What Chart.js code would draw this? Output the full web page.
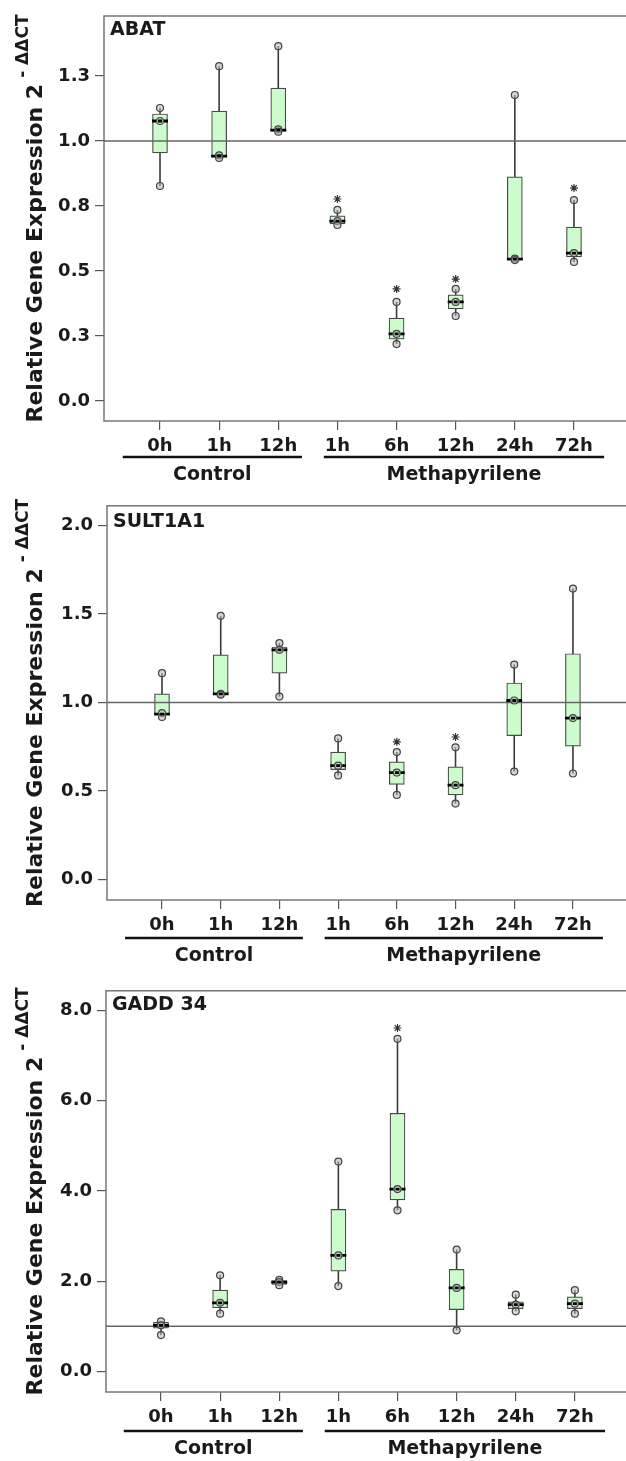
<!DOCTYPE html>
<html>
<head>
<meta charset="utf-8">
<script src="https://cdn.jsdelivr.net/npm/chart.js@4.4.1/dist/chart.umd.min.js"></script>
<style>
  html, body { margin: 0; padding: 0; background: #fff; overflow: hidden; }
  #wrap { position: relative; width: 626px; height: 1461px; overflow: hidden; }
  canvas { position: absolute; left: 0; }
</style>
</head>
<body>
<div id="wrap">
  <canvas id="abat" width="660" height="490" style="top:0px"></canvas>
  <canvas id="sult" width="660" height="485" style="top:490px"></canvas>
  <canvas id="gadd" width="660" height="486" style="top:975px"></canvas>
</div>
<script>
// x categories: 3 control time points, 5 methapyrilene time points
const timeLabels = ['0h', '1h', '12h', '1h', '6h', '12h', '24h', '72h'];
const groupNames = ['Control', 'Methapyrilene'];

// ABAT
const abatPoints = [[1.127, 1.077, 0.827], [1.288, 0.945, 0.935], [1.365, 1.045, 1.036], [0.735, 0.692, 0.677],
                    [0.381, 0.258, 0.219], [0.431, 0.381, 0.327], [1.177, 0.548, 0.542], [0.773, 0.569, 0.535]];
const abatQ1  = [0.954, 0.938, 1.038, 0.681, 0.238, 0.354, 0.546, 0.554];
const abatMed = [1.077, 0.942, 1.042, 0.692, 0.258, 0.381, 0.546, 0.569];
const abatQ3  = [1.104, 1.115, 1.204, 0.712, 0.319, 0.408, 0.862, 0.669];
const abatLo  = [0.827, 0.935, 1.036, 0.677, 0.219, 0.327, 0.542, 0.535];
const abatHi  = [1.127, 1.288, 1.365, 0.735, 0.381, 0.431, 1.177, 0.773];
const abatStars = [null, null, null, 0.777, 0.431, 0.469, null, 0.819];
const abatTicks = [0, 0.25, 0.5, 0.75, 1, 1.25];

// SULT1A1
const sultPoints = [[1.165, 0.940, 0.918], [1.489, 1.049, 1.044], [1.335, 1.297, 1.033], [0.797, 0.643, 0.588],
                    [0.720, 0.604, 0.478], [0.747, 0.533, 0.429], [1.214, 1.011, 0.610], [1.643, 0.912, 0.599]];
const sultQ1  = [0.934, 1.049, 1.165, 0.621, 0.538, 0.478, 0.813, 0.753];
const sultMed = [0.934, 1.049, 1.297, 0.643, 0.604, 0.533, 1.011, 0.912];
const sultQ3  = [1.049, 1.269, 1.313, 0.720, 0.665, 0.637, 1.110, 1.275];
const sultLo  = [0.918, 1.044, 1.033, 0.588, 0.478, 0.429, 0.610, 0.599];
const sultHi  = [1.165, 1.489, 1.335, 0.797, 0.720, 0.747, 1.214, 1.643];
const sultStars = [null, null, null, null, 0.778, 0.805, null, null];
const sultTicks = [0, 0.5, 1, 1.5, 2];

// GADD 34
const gaddPoints = [[1.109, 1.02, 0.804], [2.13, 1.52, 1.28], [2.03, 1.98, 1.91], [4.65, 2.57, 1.89],
                    [7.37, 4.04, 3.57], [2.70, 1.85, 0.91], [1.70, 1.48, 1.33], [1.80, 1.50, 1.28]];
const gaddQ1  = [0.957, 1.41, 1.93, 2.22, 3.80, 1.37, 1.39, 1.39];
const gaddMed = [1.02, 1.52, 1.98, 2.57, 4.04, 1.85, 1.48, 1.50];
const gaddQ3  = [1.087, 1.80, 2.01, 3.59, 5.72, 2.26, 1.54, 1.65];
const gaddLo  = [0.804, 1.28, 1.91, 1.89, 3.57, 0.91, 1.33, 1.28];
const gaddHi  = [1.109, 2.13, 2.03, 4.65, 7.37, 2.70, 1.70, 1.80];
const gaddStars = [null, null, null, null, 7.61, null, null, null];
const gaddTicks = [0, 2, 4, 6, 8];

const FONT = 'DejaVu Sans';

// draws frame, gene name, y title and the Control / Methapyrilene brackets
const panelDecor = {
  id: 'panelDecor',
  beforeDatasetsDraw(chart, args, opts) {
    const { ctx, chartArea: a } = chart;
    ctx.save();
    ctx.strokeStyle = '#777';
    ctx.lineWidth = 1.5;
    ctx.strokeRect(a.left, a.top, a.right - a.left, a.bottom - a.top);
    ctx.restore();
  },
  afterDraw(chart, args, opts) {
    const { ctx, chartArea: a } = chart;
    const xs = chart.scales.x;
    ctx.save();
    ctx.fillStyle = '#1a1a1a';

    // gene name inside the box
    ctx.font = 'bold 19px ' + FONT;
    ctx.textAlign = 'left';
    ctx.textBaseline = 'top';
    ctx.fillText(opts.title, a.left + 6, a.top + opts.titleDy);

    // y axis title with superscript
    const main = 'Relative Gene Expression 2';
    const sup = '- \u0394\u0394CT';
    ctx.font = 'bold 22px ' + FONT;
    const wMain = ctx.measureText(main).width;
    ctx.font = 'bold 17px ' + FONT;
    const wSup = ctx.measureText(sup).width;
    const total = wMain + 6 + wSup;
    ctx.save();
    ctx.translate(42, (a.top + a.bottom) / 2);
    ctx.rotate(-Math.PI / 2);
    ctx.textBaseline = 'alphabetic';
    ctx.font = 'bold 22px ' + FONT;
    ctx.fillText(main, -total / 2, 0);
    ctx.font = 'bold 17px ' + FONT;
    ctx.fillText(sup, -total / 2 + wMain + 6, -14);
    ctx.restore();

    // group brackets
    const groups = [[-0.63, 2.40], [2.77, 7.51]];
    ctx.strokeStyle = '#111';
    ctx.lineWidth = 2.5;
    ctx.font = 'bold 19px ' + FONT;
    ctx.textAlign = 'center';
    ctx.textBaseline = 'middle';
    groups.forEach((g, i) => {
      const x1 = xs.getPixelForValue(g[0]);
      const x2 = xs.getPixelForValue(g[1]);
      const ly = a.bottom + opts.lineDy;
      ctx.beginPath();
      ctx.moveTo(x1, ly);
      ctx.lineTo(x2, ly);
      ctx.stroke();
      ctx.fillText(groupNames[i], (x1 + x2) / 2, a.bottom + opts.lineDy + 18);
    });
    ctx.restore();
  }
};

function makePanel(id, p) {
  const boxes = p.q1.map((v, i) => ({ x: i, y: [v, p.q3[i]] }));
  const whiskers = [];
  const medians = [];
  p.lo.forEach((v, i) => {
    whiskers.push({ x: i, y: v }, { x: i, y: p.hi[i] }, { x: i, y: null });
  });
  p.med.forEach((v, i) => {
    medians.push({ x: i - 0.135, y: v }, { x: i + 0.135, y: v }, { x: i, y: null });
  });
  const dots = [];
  p.points.forEach((arr, i) => arr.forEach(v => dots.push({ x: i, y: v })));
  const stars = [];
  p.stars.forEach((v, i) => { if (v !== null) stars.push({ x: i, y: v }); });

  new Chart(document.getElementById(id), {
    type: 'scatter',
    data: {
      datasets: [
        { type: 'line', data: whiskers, borderColor: '#3a3a3a', borderWidth: 1.6, pointRadius: 0, spanGaps: false, order: 6 },
        { type: 'bar', data: boxes, backgroundColor: '#ccfccc', borderColor: '#4a4a4a', borderWidth: 1.2,
          borderSkipped: false, barThickness: 15, grouped: false, order: 5 },
        { type: 'line', data: [{ x: p.xMin, y: 1 }, { x: p.xMax, y: 1 }], borderColor: '#666', borderWidth: 1.4,
          pointRadius: 0, order: 4 },
        { type: 'scatter', data: dots, pointRadius: 3.5, backgroundColor: 'rgba(180,180,180,0.55)',
          borderColor: '#444', borderWidth: 1.2, order: 3 },
        { type: 'line', data: medians, borderColor: '#000', borderWidth: 2.8, borderDash: [4, 2], borderCapStyle: 'butt',
          pointRadius: 0, spanGaps: false, order: 2 },
        { type: 'scatter', data: stars, pointStyle: 'star', pointRadius: 4, borderColor: '#333', borderWidth: 1.2, order: 1 }
      ]
    },
    options: {
      responsive: false,
      animation: false,
      layout: { padding: { left: 0, top: p.top, right: 26, bottom: 0 } },
      plugins: {
        legend: { display: false },
        tooltip: { enabled: false },
        panelDecor: { title: p.title, titleDy: p.titleDy, lineDy: p.lineDy }
      },
      scales: {
        x: {
          type: 'linear', min: p.xMin, max: p.xMax, offset: false,
          afterBuildTicks: s => { s.ticks = timeLabels.map((t, i) => ({ value: i })); },
          afterFit: s => { s.height = p.xHeight; },
          ticks: { callback: v => timeLabels[v], font: { family: FONT, size: 18, weight: 'bold' }, color: '#1a1a1a',
                   padding: 6, maxRotation: 0, autoSkip: false },
          grid: { drawOnChartArea: false, offset: false, tickLength: 9, color: '#555', lineWidth: 1.2 },
          border: { display: false }
        },
        y: {
          type: 'linear', min: p.yMin, max: p.yMax,
          afterBuildTicks: s => { s.ticks = p.ticks.map(v => ({ value: v })); },
          afterFit: s => { s.width = p.left; },
          ticks: { callback: v => v.toFixed(1), font: { family: FONT, size: 18, weight: 'bold' }, color: '#1a1a1a', padding: 5 },
          grid: { drawOnChartArea: false, tickLength: 9, color: '#555', lineWidth: 1.2 },
          border: { display: false }
        }
      }
    },
    plugins: [panelDecor]
  });
}

makePanel('abat', {
  title: 'ABAT', points: abatPoints, q1: abatQ1, med: abatMed, q3: abatQ3, lo: abatLo, hi: abatHi, stars: abatStars,
  ticks: abatTicks, yMin: -0.077, yMax: 1.481, xMin: -0.947, xMax: 8.015,
  left: 104, top: 16, xHeight: 69, titleDy: 5, lineDy: 36
});
makePanel('sult', {
  title: 'SULT1A1', points: sultPoints, q1: sultQ1, med: sultMed, q3: sultQ3, lo: sultLo, hi: sultHi, stars: sultStars,
  ticks: sultTicks, yMin: -0.115, yMax: 2.110, xMin: -0.937, xMax: 8.04,
  left: 107, top: 4, xHeight: 75, titleDy: 7, lineDy: 38
});
makePanel('gadd', {
  title: 'GADD 34', points: gaddPoints, q1: gaddQ1, med: gaddMed, q3: gaddQ3, lo: gaddLo, hi: gaddHi, stars: gaddStars,
  ticks: gaddTicks, yMin: -0.457, yMax: 8.435, xMin: -0.930, xMax: 8.0,
  left: 106, top: 8, xHeight: 69, titleDy: 5, lineDy: 39
});
</script>
</body>
</html>
